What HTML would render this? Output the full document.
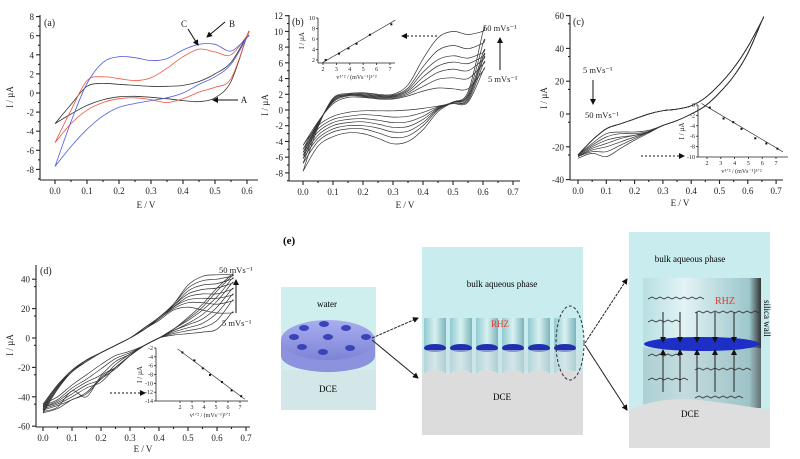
<!DOCTYPE html>
<html><head><meta charset="utf-8"><style>
html,body{margin:0;padding:0;background:#fff;}
svg{display:block;font-family:"Liberation Serif",serif;}
</style></head><body>
<svg id="fig" width="800" height="459" viewBox="0 0 800 459" xmlns="http://www.w3.org/2000/svg">
<defs>
<marker id="ah" markerWidth="6" markerHeight="6" refX="5" refY="3" orient="auto"><path d="M0,0 L6,3 L0,6 Z" fill="#111"/></marker>
<linearGradient id="pore" x1="0" x2="1"><stop offset="0" stop-color="#8fc9cf"/><stop offset="0.5" stop-color="#d9f1f2"/><stop offset="1" stop-color="#7ab4bb"/></linearGradient>
<linearGradient id="poreR" x1="0" x2="1"><stop offset="0" stop-color="#b8dfe3"/><stop offset="0.35" stop-color="#e2f3f4"/><stop offset="0.9" stop-color="#9cc7cc"/><stop offset="1" stop-color="#333"/></linearGradient>
<linearGradient id="disk" x1="0" y1="0" x2="0" y2="1"><stop offset="0" stop-color="#a9aef0"/><stop offset="1" stop-color="#7d84d6"/></linearGradient>
</defs>
<g id="charts"></g>
<g>
<text x="283" y="244" font-size="11" font-weight="bold">(e)</text>
<rect x="281" y="287" width="95" height="123" fill="#cfeeee"/>
<rect x="281" y="370" width="95" height="40" fill="#d4e7e8"/>
<text x="327" y="307" font-size="9" text-anchor="middle">water</text>
<ellipse cx="328" cy="356" rx="47" ry="16" fill="#8c92de"/>
<rect x="281" y="340" width="94" height="16" fill="#8c92de"/>
<ellipse cx="328" cy="340" rx="47" ry="20" fill="url(#disk)"/>
<g fill="#3a44b8">
<ellipse cx="304" cy="328" rx="5" ry="3"/><ellipse cx="324" cy="324" rx="5" ry="3"/><ellipse cx="346" cy="328" rx="5" ry="3"/>
<ellipse cx="294" cy="337" rx="5" ry="3"/><ellipse cx="328" cy="337" rx="5" ry="3"/><ellipse cx="366" cy="337" rx="5" ry="3"/>
<ellipse cx="302" cy="347" rx="5" ry="3"/><ellipse cx="323" cy="352" rx="5" ry="3"/><ellipse cx="350" cy="348" rx="5" ry="3"/>
</g>
<text x="328" y="392" font-size="9" text-anchor="middle">DCE</text>

<rect x="422" y="247" width="161" height="188" fill="#c9ecee"/>
<text x="502" y="287" font-size="9" text-anchor="middle">bulk aqueous phase</text>
<g>
<rect x="424" y="318" width="22" height="55" fill="url(#pore)"/><rect x="450" y="318" width="22" height="55" fill="url(#pore)"/>
<rect x="476" y="318" width="22" height="55" fill="url(#pore)"/><rect x="502" y="318" width="22" height="55" fill="url(#pore)"/>
<rect x="528" y="318" width="22" height="55" fill="url(#pore)"/><rect x="554" y="318" width="22" height="55" fill="url(#pore)"/>
<g fill="#1f2fb0"><ellipse cx="435" cy="348" rx="11" ry="4"/><ellipse cx="461" cy="348" rx="11" ry="4"/><ellipse cx="487" cy="348" rx="11" ry="4"/><ellipse cx="513" cy="348" rx="11" ry="4"/><ellipse cx="539" cy="348" rx="11" ry="4"/><ellipse cx="565" cy="348" rx="11" ry="4"/></g>
<rect x="422" y="350" width="161" height="22" fill="#cfe0e2" opacity="0.6"/>
</g>
<path d="M422,374 Q435,366 448,374 Q461,366 474,374 Q487,366 500,374 Q513,366 526,374 Q539,366 552,374 Q565,366 583,374 L583,435 L422,435 Z" fill="#dcdcdc"/>
<text x="500" y="327" font-size="9" fill="#e8372a" text-anchor="middle">RHZ</text>
<text x="502" y="400" font-size="9" text-anchor="middle">DCE</text>
<ellipse cx="570" cy="343" rx="14" ry="37" fill="none" stroke="#333" stroke-width="1" stroke-dasharray="3,2"/>
<g stroke="#222" stroke-width="1" fill="none" marker-end="url(#ah)">
<line x1="372" y1="338" x2="418" y2="318" stroke-dasharray="3,1"/>
<line x1="372" y1="340" x2="418" y2="378"/>
<line x1="585" y1="343" x2="627" y2="279" stroke-dasharray="3,1"/>
<line x1="585" y1="345" x2="627" y2="410"/>
</g>

<rect x="629" y="232" width="141" height="216" fill="#c9ecee"/>
<text x="690" y="262" font-size="9" text-anchor="middle">bulk aqueous phase</text>
<rect x="643" y="278" width="118" height="130" fill="url(#poreR)"/>
<rect x="643" y="348" width="118" height="60" fill="#9fbfc4" opacity="0.45"/>
<ellipse cx="702" cy="344" rx="58" ry="7" fill="#1d2fc4"/>
<path d="M629,410 Q660,396 700,400 Q735,404 770,410 L770,448 L629,448 Z" fill="#dedede"/>
<text x="690" y="417" font-size="9" text-anchor="middle">DCE</text>
<text x="725" y="304" font-size="10" fill="#e8372a" text-anchor="middle">RHZ</text>
<text transform="translate(764,300) rotate(90)" font-size="9">silica wall</text>
<g stroke="#333" stroke-width="0.8" fill="none">
<path d="M648,299 l4,-2 l4,2 l4,-2 l4,2 l4,-2 l4,2 l4,-2 l4,2 l4,-2 l4,2 l4,-2 l4,2 l4,-2 l4,2"/>
<path d="M648,322 l4,-2 l4,2 l4,-2 l4,2 l4,-2 l4,2 l4,-2 l4,2"/>
<path d="M695,313 l4,-2 l4,2 l4,-2 l4,2 l4,-2 l4,2 l4,-2 l4,2 l4,-2 l4,2 l4,-2 l4,2 l4,-2 l4,2 l4,-2 l4,2"/>
<path d="M648,356 l4,-2 l4,2 l4,-2 l4,2 l4,-2 l4,2 l4,-2 l4,2"/>
<path d="M648,380 l4,-2 l4,2 l4,-2 l4,2 l4,-2 l4,2 l4,-2 l4,2 l4,-2 l4,2"/>
<path d="M695,370 l4,-2 l4,2 l4,-2 l4,2 l4,-2 l4,2 l4,-2 l4,2 l4,-2 l4,2 l4,-2 l4,2 l4,-2 l4,2"/>
<path d="M695,398 l4,-2 l4,2 l4,-2 l4,2 l4,-2 l4,2 l4,-2 l4,2 l4,-2 l4,2 l4,-2 l4,2"/>
</g>
<g stroke="#222" stroke-width="1" marker-end="url(#ah)">
<line x1="663" y1="312" x2="663" y2="342"/><line x1="680" y1="312" x2="680" y2="342"/><line x1="697" y1="312" x2="697" y2="342"/><line x1="715" y1="312" x2="715" y2="342"/><line x1="734" y1="312" x2="734" y2="342"/>
<line x1="663" y1="392" x2="663" y2="350"/><line x1="680" y1="392" x2="680" y2="350"/><line x1="697" y1="392" x2="697" y2="350"/><line x1="715" y1="392" x2="715" y2="350"/><line x1="734" y1="392" x2="734" y2="350"/>
</g>
</g>
</svg>
<script>
const eA=[0,0.05,0.1,0.15,0.2,0.25,0.3,0.35,0.4,0.45,0.5,0.55,0.6];
const aBlackFwd=[-3.2,-1.2,0.7,1.0,0.9,0.8,0.7,0.7,0.8,1.2,2.0,3.2,6.0];
const aBlackRev=[-3.2,-2.2,-1.3,-0.7,-0.4,-0.35,-0.45,-0.6,-0.8,-0.9,-0.5,1.2,6.0];
const aRedFwd=[-5.2,-1.8,1.3,1.7,1.5,1.3,1.6,2.6,3.8,4.6,4.3,4.0,6.0];
const aRedRev=[-5.2,-3.2,-1.8,-1.0,-0.6,-0.5,-0.7,-1.0,-0.6,0.1,0.6,1.5,6.0];
const aBlueFwd=[-7.7,-3.0,1.0,3.2,3.8,3.7,3.4,3.6,4.5,5.1,5.1,4.4,5.8];
const aBlueRev=[-7.7,-5.6,-3.8,-2.4,-1.5,-1.1,-0.8,-0.5,0.0,0.9,1.7,3.0,5.8];

const eB=[0,0.05,0.1,0.15,0.2,0.25,0.3,0.35,0.4,0.45,0.5,0.55,0.6];
const bFwd1=[-4.5,-1.5,0.8,1.6,1.6,1.4,1.4,1.8,2.4,2.8,2.7,2.7,5.0];
const bRev1=[-4.5,-2.0,-0.8,-0.3,-0.1,-0.1,-0.1,0.0,0.2,0.5,0.8,1.0,5.0];
const bFwd2=[-5.0,-1.6,1.0,1.8,1.7,1.5,1.5,2.0,3.0,3.9,4.1,4.0,5.8];
const bRev2=[-5.0,-2.4,-1.2,-0.8,-0.6,-0.7,-0.9,-0.8,-0.3,0.4,0.9,1.2,5.8];
const bFwd3=[-5.4,-1.7,1.1,1.9,1.8,1.6,1.6,2.2,3.6,4.8,5.2,5.0,6.4];
const bRev3=[-5.4,-2.8,-1.6,-1.2,-1.1,-1.3,-1.6,-1.5,-0.8,0.3,0.9,1.4,6.4];
const bFwd4=[-5.8,-1.8,1.2,1.9,1.9,1.7,1.7,2.4,4.2,5.6,6.1,5.9,6.8];
const bRev4=[-5.8,-3.2,-2.0,-1.6,-1.5,-1.8,-2.2,-2.1,-1.2,0.2,1.0,1.6,6.8];
const bFwd5=[-6.2,-1.9,1.3,2.0,2.0,1.8,1.8,2.6,4.8,6.4,6.9,6.6,7.3];
const bRev5=[-6.2,-3.6,-2.4,-2.0,-2.0,-2.3,-2.8,-2.7,-1.6,0.1,1.0,1.8,7.3];
const bFwd6=[-6.8,-2.0,1.4,2.0,2.1,1.9,1.9,2.8,5.5,7.6,8.2,7.8,8.5];
const bRev6=[-6.8,-4.0,-2.8,-2.4,-2.4,-2.9,-3.5,-3.3,-2.0,0.0,1.0,2.0,8.5];
const bFwd7=[-7.8,-2.2,1.5,2.1,2.2,2.0,2.0,3.2,6.5,9.2,10.0,9.6,10.0];
const bRev7=[-7.8,-4.6,-3.4,-2.9,-3.0,-3.6,-4.3,-4.0,-2.5,-0.2,1.0,2.3,10.0];
const bInsetX=[2.2,3.2,3.9,4.5,5.5,7.1];
const bInsetY=[2.0,3.2,4.2,5.1,6.8,8.8];

const eC=[0,0.05,0.1,0.15,0.2,0.25,0.3,0.35,0.4,0.45,0.5,0.55,0.6,0.65];
const cFwd=[-25,-16,-9,-6,-3,0,2,3,5,10,18,28,41,57];
const cRev1=[-25,-18,-12,-11,-11,-10,-7,-4,0,5,13,23,37,57];
const cRev2=[-25,-19,-14,-12,-12,-10.5,-7,-4,0,5,13,23,37,57];
const cRev3=[-25.5,-20,-16,-14,-13,-11,-7,-4,0,5,13,23,37,57];
const cRev4=[-26,-21,-18,-15,-13,-11,-7,-4,0,5,13,23,37,57];
const cRev5=[-26,-22,-20,-17,-14,-11,-7,-4,0,5,13,23,37,57];
const cRev6=[-26,-23,-23,-19,-15,-11,-7,-4,0,5,13,23,37,57];
const cRev7=[-27,-24,-26,-21,-16,-11.5,-7,-4,0,5,13,23,37,57];
const cInsetX=[2.2,3.2,3.9,4.5,5.5,6.3,7.1];
const cInsetY=[-0.5,-2.6,-3.3,-4.6,-6.4,-7.4,-8.4];

const eD=[0,0.05,0.1,0.15,0.2,0.25,0.3,0.35,0.4,0.45,0.5,0.55,0.6,0.65];
const dFwd1=[-45,-32,-22,-15,-10,-5,0,6,12,19,21,19,17,17];
const dRev1=[-45,-40,-32,-25,-18,-12,-9,-5,0,2,3,4,6,17];
const dFwd2=[-46,-32,-22,-15,-10,-5,0,6,13,20,24,24,23,25];
const dRev2=[-46,-42,-34,-28,-21,-14,-10,-5,0,3,5,7,12,25];
const dFwd3=[-47,-33,-22,-15,-10,-5,0,6,13,21,26,27,27,29];
const dRev3=[-47,-43,-36,-30,-25,-16,-11,-5,0,4,7,10,17,29];
const dFwd4=[-47,-33,-22,-15,-10,-5,0,6,13,21,28,30,30,33];
const dRev4=[-47,-44,-38,-32,-28,-18,-11,-5,0,5,9,13,21,33];
const dFwd5=[-48,-33,-23,-15,-10,-5,0,6,14,22,30,33,34,37];
const dRev5=[-48,-45,-40,-34,-30,-20,-12,-5,0,5,10,16,25,37];
const dFwd6=[-49,-34,-23,-16,-10,-5,0,6,14,22,32,36,37,40];
const dRev6=[-49,-46,-42,-37,-27,-20,-12,-5,0,6,12,19,28,40];
const dFwd7=[-50,-34,-23,-16,-10,-5,0,7,14,23,34,39,40,42];
const dRev7=[-50,-47,-36,-40,-26,-20,-12,-5,0,6,13,21,32,42];
const dFwd8=[-51,-35,-23,-16,-10,-5,0,7,14,23,36,42,43,43];
const dRev8=[-51,-48,-42,-38,-28,-21,-12,-5,0,6,14,23,34,43];
const dInsetX=[2.2,3.2,3.9,4.5,5.5,6.3,7.1];
const dInsetY=[-3,-4.8,-6.6,-8.1,-9.7,-11.6,-12.9];

const xTicks7=["0.0","0.1","0.2","0.3","0.4","0.5","0.6","0.7"];
const insetXTicks=[2,3,4,5,6,7];

const NS="http://www.w3.org/2000/svg";
const root=document.getElementById('charts');
function mk(tag,attrs,parent){const e=document.createElementNS(NS,tag);for(const k in attrs)e.setAttribute(k,attrs[k]);(parent||root).appendChild(e);return e;}
function smooth(p){let d="M"+p[0][0].toFixed(1)+","+p[0][1].toFixed(1);
 for(let i=0;i<p.length-1;i++){const p0=p[i-1]||p[i],p1=p[i],p2=p[i+1],p3=p[i+2]||p2;
  d+=" C"+(p1[0]+(p2[0]-p0[0])/6).toFixed(1)+","+(p1[1]+(p2[1]-p0[1])/6).toFixed(1)+" "+(p2[0]-(p3[0]-p1[0])/6).toFixed(1)+","+(p2[1]-(p3[1]-p1[1])/6).toFixed(1)+" "+p2[0].toFixed(1)+","+p2[1].toFixed(1);}
 return d;}
function txt(x,y,s,size,anchor,name,extra){const t=mk('text',Object.assign({x:x,y:y,'font-size':size,'text-anchor':anchor||'start',fill:'#222'},extra||{}));t.textContent=s;
 
 
 return t;}
function axes(c){
 const g=mk('g',{stroke:'#222','stroke-width':1.1,fill:'none'});
 
 
 mk('line',{x1:c.x0,y1:c.yTop,x2:c.x0,y2:c.yBot},g);
 mk('line',{x1:c.x0,y1:c.yBot,x2:c.xEnd,y2:c.yBot},g);
 c.xt.forEach((v,i)=>{const X=c.X(v);mk('line',{x1:X,y1:c.yBot,x2:X,y2:c.yBot+4},g);
   const m=c.X(v+c.xs/2);if(m<c.xEnd)mk('line',{x1:m,y1:c.yBot,x2:m,y2:c.yBot+2},g);
   const ml=c.X(v-c.xs/2);if(i==0&&ml>c.x0)mk('line',{x1:ml,y1:c.yBot,x2:ml,y2:c.yBot+2},g);
   txt(X,c.yBot+14,c.xl?c.xl[i]:String(v),c.fs,'middle',c.name+'-x-tick-label');});
 c.yt.forEach(v=>{const Y=c.Y(v);mk('line',{x1:c.x0,y1:Y,x2:c.x0-4,y2:Y},g);
   const m=c.Y(v-c.ys/2);if(m<c.yBot)mk('line',{x1:c.x0,y1:m,x2:c.x0-2,y2:m},g);
   txt(c.x0-6,Y+3.5,String(v),c.fs,'end',c.name+'-y-tick-label');});
}
function cv(X,Y,E,f,r,color,name,w){const pts=E.map((e,i)=>[X(e),Y(f[i])]);
 for(let i=E.length-1;i>=0;i--)pts.push([X(E[i]),Y(r[i])]);
 const p=mk('path',{d:smooth(pts),fill:'none',stroke:color,'stroke-width':w||0.8});
 
 }
function arrow(x1,y1,x2,y2,name,dash){const l=mk('line',{x1:x1,y1:y1,x2:x2,y2:y2,stroke:'#111','stroke-width':1,'marker-end':'url(#ah)'});if(dash)l.setAttribute('stroke-dasharray','2,2');
 
 }
function inset(c,xs,ys){
 const g=mk('g',{stroke:'#222','stroke-width':0.8,fill:'none'});
 
 
 mk('line',{x1:c.x0,y1:c.yTop,x2:c.x0,y2:c.yBot},g);mk('line',{x1:c.x0,y1:c.yBot,x2:c.xEnd,y2:c.yBot},g);
 insetXTicks.forEach(v=>{mk('line',{x1:c.X(v),y1:c.yBot,x2:c.X(v),y2:c.yBot+2},g);txt(c.X(v),c.yBot+8,String(v),6,'middle',c.name+'-x-tick-label');});
 c.yt.forEach(v=>{mk('line',{x1:c.x0,y1:c.Y(v),x2:c.x0-2,y2:c.Y(v)},g);txt(c.x0-3,c.Y(v)+2,String(v),6,'end',c.name+'-y-tick-label');});
 const ln=mk('line',{x1:c.X(c.fit[0]),y1:c.Y(c.fit[1]),x2:c.X(c.fit[2]),y2:c.Y(c.fit[3]),stroke:'#333','stroke-width':0.7});
 
 
 xs.forEach((v,i)=>{const d=mk('rect',{x:c.X(v)-1,y:c.Y(ys[i])-1,width:2,height:2,fill:'#111'});
   
   });
 txt(c.X(4.5),c.yBot+16,"v\u00B9\u141F\u00B2 / (mVs\u207B\u00B9)\u00B9\u141F\u00B2",6,'middle',c.name+'-x-title');
 txt(0,0,"I / \u00B5A",7,'middle',c.name+'-y-title',{transform:"translate("+(c.x0-14)+","+((c.yTop+c.yBot)/2)+") rotate(-90)"});
}

{const X=e=>55+e*320, Y=i=>93-i*9.55;
 axes({name:'panel-a',x0:40,xEnd:258,yTop:15,yBot:180,X:X,Y:Y,xt:[0,0.1,0.2,0.3,0.4,0.5,0.6],xl:xTicks7,xs:0.1,yt:[8,6,4,2,0,-2,-4,-6,-8],ys:2,fs:9});
 cv(X,Y,eA,aBlackFwd,aBlackRev,'#333','curve-a-black');
 cv(X,Y,eA,aRedFwd,aRedRev,'#f0553f','curve-c-red');
 cv(X,Y,eA,aBlueFwd,aBlueRev,'#4f5ce0','curve-b-blue');
 txt(44,26,'(a)',10,'start','panel-label-a');
 txt(146,208,'E / V',9,'middle','panel-a-x-title');
 txt(0,0,'I / \u00B5A',9,'middle','panel-a-y-title',{transform:'translate(13,97) rotate(-90)'});
 txt(184,27,'C',9,'middle','label-c');txt(232,27,'B',9,'middle','label-b');txt(244,103,'A',9,'middle','label-a');
 arrow(188,29,198,45,'arrow-c');arrow(225,22,207,37,'arrow-b');arrow(238,100,213,100,'arrow-a');}

{const X=e=>303+e*300, Y=i=>110-i*7.86;
 axes({name:'panel-b',x0:289,xEnd:520,yTop:15,yBot:181,X:X,Y:Y,xt:[0,0.1,0.2,0.3,0.4,0.5,0.6,0.7],xl:xTicks7,xs:0.1,yt:[12,10,8,6,4,2,0,-2,-4,-6,-8],ys:2,fs:9});
 const F=[bFwd1,bFwd2,bFwd3,bFwd4,bFwd5,bFwd6,bFwd7],R=[bRev1,bRev2,bRev3,bRev4,bRev5,bRev6,bRev7];
 F.forEach((f,k)=>cv(X,Y,eB,f,R[k],'#333','curve-b-'+(k+1),0.7));
 txt(292,25,'(b)',10,'start','panel-label-b');
 txt(405,208,'E / V',9,'middle','panel-b-x-title');
 txt(0,0,'I / \u00B5A',9,'middle','panel-b-y-title',{transform:'translate(268,105) rotate(-90)'});
 txt(483,31,'50 mVs\u207B\u00B9',8.5,'start','label-b-50');txt(488,82,'5 mVs\u207B\u00B9',8.5,'start','label-b-5');
 arrow(500,70,500,38,'arrow-b-scanrate');arrow(437,36,402,36,'arrow-b-inset',true);
 inset({name:'inset-b',x0:318,xEnd:395,yTop:18,yBot:63,X:v=>323+(v-2)*13.4,Y:v=>60-(v-2)*5.25,yt:[2,4,6,8,10],fit:[1.9,1.4,7.4,9.6]},bInsetX,bInsetY);}

{const X=e=>578+e*283, Y=i=>114-i*1.64;
 axes({name:'panel-c',x0:570,xEnd:783,yTop:15,yBot:180,X:X,Y:Y,xt:[0,0.1,0.2,0.3,0.4,0.5,0.6,0.7],xl:xTicks7,xs:0.1,yt:[60,40,20,0,-20,-40],ys:10,fs:9});
 const R=[cRev1,cRev2,cRev3,cRev4,cRev5,cRev6,cRev7];
 R.forEach((r,k)=>cv(X,Y,eC,cFwd,r,'#333','curve-c-'+(k+1),0.7));
 txt(573,25,'(c)',10,'start','panel-label-c');
 txt(680,206,'E / V',9,'middle','panel-c-x-title');
 txt(0,0,'I / \u00B5A',9,'middle','panel-c-y-title',{transform:'translate(547,98) rotate(-90)'});
 txt(583,73,'5 mVs\u207B\u00B9',8.5,'start','label-c-5');txt(585,118,'50 mVs\u207B\u00B9',8.5,'start','label-c-50');
 arrow(593,80,593,104,'arrow-c-scanrate');arrow(641,156,684,156,'arrow-c-inset',true);
 inset({name:'inset-c',x0:698,xEnd:788,yTop:105,yBot:157,X:v=>707+(v-2)*13.8,Y:v=>105-v*5.2,yt:[0,-2,-4,-6,-8,-10],fit:[1.6,0.3,7.5,-9]},cInsetX,cInsetY);}

{const X=e=>43+e*290, Y=i=>338-i*1.47;
 axes({name:'panel-d',x0:36,xEnd:250,yTop:265,yBot:427,X:X,Y:Y,xt:[0,0.1,0.2,0.3,0.4,0.5,0.6,0.7],xl:xTicks7,xs:0.1,yt:[40,20,0,-20,-40,-60],ys:10,fs:9});
 const F=[dFwd1,dFwd2,dFwd3,dFwd4,dFwd5,dFwd6,dFwd7,dFwd8],R=[dRev1,dRev2,dRev3,dRev4,dRev5,dRev6,dRev7,dRev8];
 F.forEach((f,k)=>cv(X,Y,eD,f,R[k],'#333','curve-d-'+(k+1),0.7));
 txt(40,274,'(d)',10,'start','panel-label-d');
 txt(143,452,'E / V',9,'middle','panel-d-x-title');
 txt(0,0,'I / \u00B5A',9,'middle','panel-d-y-title',{transform:'translate(13,345) rotate(-90)'});
 txt(219,273,'50 mVs\u207B\u00B9',8.5,'start','label-d-50');txt(222,326,'5 mVs\u207B\u00B9',8.5,'start','label-d-5');
 arrow(236,313,236,280,'arrow-d-scanrate');arrow(110,393,145,393,'arrow-d-inset',true);
 inset({name:'inset-d',x0:156,xEnd:248,yTop:348,yBot:401,X:v=>180+(v-2)*12,Y:v=>348+(-2-v)*4.42,yt:[-2,-4,-6,-8,-10,-12,-14],fit:[1.8,-2.2,7.4,-13.6]},dInsetX,dInsetY);}
</script>
</body></html>
